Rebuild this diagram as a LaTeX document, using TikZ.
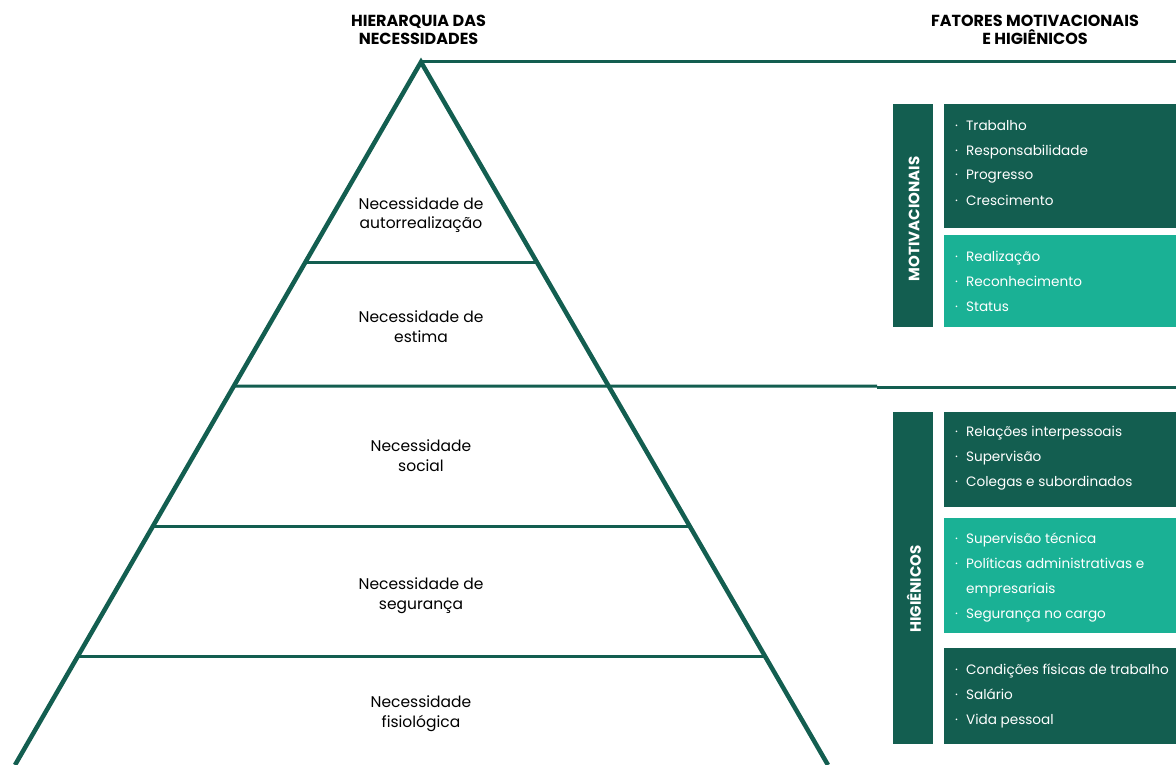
\documentclass[tikz,border=0pt]{standalone}
\usepackage{fontspec}
\setmainfont{Poppins}
\usetikzlibrary{calc}
\definecolor{dk}{HTML}{135E50}
\definecolor{lt}{HTML}{1AB195}
\newcommand{\itm}[1]{·\hspace{8pt}#1}
\newcommand{\cnt}[1]{\phantom{·}\hspace{8pt}#1}
\tikzset{
  side/.style={draw=dk, line width=4.5pt},
  hline/.style={draw=dk, line width=3pt},
  pyrtext/.style={anchor=base, align=center, inner sep=0pt, font=\fontsize{15.5}{20}\selectfont, text=black},
  head/.style={anchor=base, align=center, inner sep=0pt, font=\fontsize{16}{18}\selectfont\bfseries, text=black},
  bar/.style={fill=dk, draw=none},
  dkbox/.style={fill=dk, draw=none},
  ltbox/.style={fill=lt, draw=none},
  items/.style={anchor=base west, align=left, inner sep=0pt, text=white, font=\fontsize{13.6}{25}\selectfont},
  vlab/.style={rotate=90, inner sep=0pt, text=white, font=\fontsize{15}{16}\selectfont\bfseries}
}
\begin{document}
\begin{tikzpicture}[x=1pt,y=-1pt]
\useasboundingbox (0,0) rectangle (1176,765);
% headings
\node[head] (h1) at (418.5,45) {HIERARQUIA DAS\\NECESSIDADES};
\node[head] (h2) at (1035,45) {FATORES MOTIVACIONAIS\\E HIGIÊNICOS};
% pyramid
\coordinate (A) at (421,62);
\coordinate (BL) at (15,765);
\coordinate (BR) at (828,765);
\coordinate (TR) at (1176,62);
\draw[hline] (A) -- (TR);
\coordinate (L1) at ($(A)!0.2845!(BL)$);
\coordinate (R1) at ($(A)!0.2845!(BR)$);
\coordinate (L2) at ($(A)!0.4609!(BL)$);
\coordinate (R2) at ($(A)!0.4609!(BR)$);
\coordinate (L3) at ($(A)!0.6601!(BL)$);
\coordinate (R3) at ($(A)!0.6601!(BR)$);
\coordinate (L4) at ($(A)!0.8450!(BL)$);
\coordinate (R4) at ($(A)!0.8450!(BR)$);
\coordinate (M2) at (877,386);
\coordinate (M2b) at (877,387.5);
\coordinate (E2) at (1176,387.5);
\draw[hline] (L1) -- (R1);
\draw[hline] (L2) -- (M2);
\draw[hline] (M2b) -- (E2);
\draw[hline] (L3) -- (R3);
\draw[hline] (L4) -- (R4);
\draw[side, line join=miter] (BL) -- (A) -- (BR);
\node[pyrtext] (p1) at (421,229) {Necessidade de\\autorrealização};
\node[pyrtext] (p2) at (421,342) {Necessidade de\\estima};
\node[pyrtext] (p3) at (421,471) {Necessidade\\social};
\node[pyrtext] (p4) at (421,609) {Necessidade de\\segurança};
\node[pyrtext] (p5) at (421,727) {Necessidade\\fisiológica};
% right panel
\path[bar] (893,104) rectangle (933,327);
\path[dkbox] (944,104) rectangle (1176,228);
\path[ltbox] (944,234.5) rectangle (1176,327);
\path[bar] (893,412) rectangle (933,744);
\path[dkbox] (944,412) rectangle (1176,506.5);
\path[ltbox] (944,517.5) rectangle (1176,633);
\path[dkbox] (944,648) rectangle (1176,744);
\node[vlab] (vm) at (914,219) {MOTIVACIONAIS};
\node[vlab] (vh) at (914,589) {HIGIÊNICOS};
\node[items] (b1) at (955,205) {\itm{Trabalho}\\\itm{Responsabilidade}\\\itm{Progresso}\\\itm{Crescimento}};
\node[items] (b2) at (955,311) {\itm{Realização}\\\itm{Reconhecimento}\\\itm{Status}};
\node[items] (b3) at (955,486.5) {\itm{Relações interpessoais}\\\itm{Supervisão}\\\itm{Colegas e subordinados}};
\node[items] (b4) at (955,618) {\itm{Supervisão técnica}\\\itm{Políticas administrativas e}\\\cnt{empresariais}\\\itm{Segurança no cargo}};
\node[items] (b5) at (955,724) {\itm{Condições físicas de trabalho}\\\itm{Salário}\\\itm{Vida pessoal}};
\end{tikzpicture}
\end{document}
